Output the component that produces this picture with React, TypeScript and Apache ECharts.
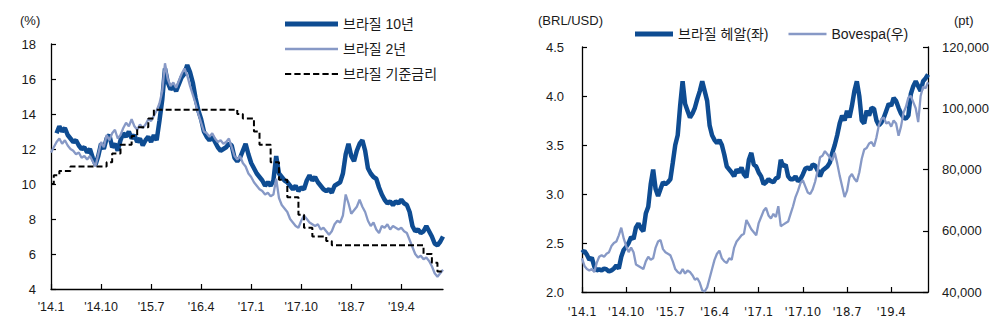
import React, { useEffect, useRef } from "react";
import * as echarts from "echarts";

// semi-monthly categories, Jan 2014 (first half) .. Nov 2019 (second half)
const categories: string[] = [];
for (let y = 2014; y <= 2019; y++) {
  for (let m = 1; m <= 12; m++) {
    if (y === 2019 && m > 11) break;
    const mm = (m < 10 ? "0" : "") + m;
    categories.push(`${y}-${mm}a`);
    categories.push(`${y}-${mm}b`);
  }
}

const leftYTicks = [4, 6, 8, 10, 12, 14, 16, 18];
const brlTicks = [2.0, 2.5, 3.0, 3.5, 4.0, 4.5];
const ptTicks = [40000, 60000, 80000, 100000, 120000];

const tenY = [
  null, null, 12.9, 13.3, 13.0, 13.2, 12.8, 12.6, 12.4, 12.5,
  12.2, 12.0, 12.1, 11.8, 12.0, 11.5, 11.1, 11.6, 12.3, 12.0,
  12.6, 12.8, 12.1, 12.3, 11.9, 12.5, 12.9, 12.7, 13.0, 12.6,
  12.8, 12.4, 12.6, 12.2, 12.5, 12.7, 12.4, 12.8, 12.5, 13.6,
  14.8, 16.6, 15.8, 15.4, 15.6, 15.3, 15.7, 16.1, 16.3, 16.8,
  16.4, 15.8, 14.9, 14.2, 13.7, 13.0, 12.7, 12.5, 12.7, 12.4,
  12.1, 11.9, 12.0, 12.1, 12.3, 12.2, 11.5, 11.3, 11.5, 11.9,
  12.3, 11.7, 11.2, 10.9, 10.6, 10.4, 10.2, 9.9, 10.1, 9.9,
  10.2, 11.6, 10.6, 10.4, 10.2, 10.1, 9.9, 9.7, 9.9, 9.6,
  9.8, 9.7, 10.2, 10.5, 10.2, 10.4, 10.1, 9.9, 9.7, 9.6,
  9.7, 9.5, 9.9, 10.0, 10.1, 10.6, 11.7, 12.3, 11.6, 11.3,
  11.9, 12.3, 12.5, 11.9, 10.9, 10.6, 10.4, 10.3, 9.8, 9.4,
  9.1, 8.9, 9.0, 8.8, 9.0, 8.9, 9.1, 8.9, 8.8, 8.4,
  7.6, 7.3, 7.4, 7.2, 7.3, 7.6, 7.3, 7.0, 6.6, 6.5,
  6.7, 7.0,
];

const twoY = [
  11.8, 12.1, 12.4, 12.6, 12.3, 12.5, 12.2, 12.0, 11.9, 11.7,
  11.8, 11.5, 11.6, 11.4, 11.6, 11.3, 11.0, 11.7, 12.4, 12.1,
  12.8, 12.5, 12.9, 13.1, 12.6, 12.8, 13.2, 13.5, 13.3, 13.7,
  13.3, 13.1, 13.4, 13.2, 13.4, 13.7, 13.6, 13.9, 14.2, 14.6,
  15.3, 16.9, 16.0, 15.6, 15.8, 15.5, 15.9, 16.3, 16.6, 16.2,
  15.6, 15.1, 14.6, 14.0, 13.5, 13.0, 12.9, 12.7, 12.9, 12.6,
  12.4, 12.5, 12.3, 12.4, 12.6, 12.1, 11.6, 11.4, 11.6, 11.2,
  11.0, 10.6, 10.4, 10.1, 9.9, 9.7, 9.6, 9.4, 9.5, 9.3,
  9.4, 10.3, 9.2, 8.8, 8.6, 8.4, 8.0, 7.8, 7.6, 7.5,
  7.9, 8.2, 8.0, 7.8, 7.7, 7.6, 7.7, 7.4, 7.5, 7.3,
  7.1, 7.3, 7.7, 7.9, 7.8, 8.2, 9.4, 8.9, 8.3, 8.5,
  8.7, 9.1, 8.7, 8.4, 7.9, 7.6, 7.8, 7.4, 7.2, 7.6,
  7.5, 7.7, 7.4, 7.6, 7.5, 7.4, 7.5, 7.3, 7.2, 6.8,
  6.4, 6.0, 5.8, 5.9, 5.7, 5.8, 5.6, 5.3, 4.9, 4.7,
  4.9, 5.1,
];

const selic = [
  10.0, 10.5, 10.5, 10.75, 10.75, 10.75, 10.75, 11.0, 11.0, 11.0,
  11.0, 11.0, 11.0, 11.0, 11.0, 11.0, 11.0, 11.0, 11.0, 11.0,
  11.25, 11.25, 11.75, 11.75, 11.75, 12.25, 12.25, 12.25, 12.25, 12.75,
  12.75, 13.25, 13.25, 13.25, 13.25, 13.75, 13.75, 14.25, 14.25, 14.25,
  14.25, 14.25, 14.25, 14.25, 14.25, 14.25, 14.25, 14.25, 14.25, 14.25,
  14.25, 14.25, 14.25, 14.25, 14.25, 14.25, 14.25, 14.25, 14.25, 14.25,
  14.25, 14.25, 14.25, 14.25, 14.25, 14.25, 14.25, 14.0, 14.0, 13.75,
  13.75, 13.75, 13.75, 13.0, 13.0, 12.25, 12.25, 12.25, 12.25, 11.25,
  11.25, 11.25, 10.25, 10.25, 10.25, 9.25, 9.25, 9.25, 9.25, 8.25,
  8.25, 7.5, 7.5, 7.5, 7.0, 7.0, 7.0, 7.0, 7.0, 6.75,
  6.75, 6.5, 6.5, 6.5, 6.5, 6.5, 6.5, 6.5, 6.5, 6.5,
  6.5, 6.5, 6.5, 6.5, 6.5, 6.5, 6.5, 6.5, 6.5, 6.5,
  6.5, 6.5, 6.5, 6.5, 6.5, 6.5, 6.5, 6.5, 6.5, 6.5,
  6.5, 6.5, 6.5, 6.5, 6.0, 6.0, 6.0, 5.5, 5.5, 5.0,
  5.0, 5.0,
];

const brl = [
  2.40, 2.42, 2.38, 2.33, 2.35, 2.26, 2.22, 2.23, 2.22, 2.24,
  2.23, 2.21, 2.22, 2.24, 2.27, 2.24, 2.36, 2.43, 2.46, 2.50,
  2.56, 2.54, 2.66, 2.70, 2.65, 2.62, 2.80, 2.87, 3.10, 3.25,
  3.05, 2.98, 3.05, 3.12, 3.10, 3.12, 3.15, 3.32, 3.50, 3.60,
  3.90, 4.15, 3.92, 3.85, 3.78, 3.82, 3.88, 3.97, 4.05, 4.15,
  4.05, 3.95, 3.70, 3.60, 3.55, 3.52, 3.55, 3.50, 3.40, 3.28,
  3.25, 3.22, 3.18, 3.25, 3.22, 3.27, 3.20, 3.17, 3.35, 3.42,
  3.30, 3.28, 3.22, 3.18, 3.10, 3.12, 3.15, 3.13, 3.12, 3.16,
  3.17, 3.35, 3.28, 3.30, 3.18, 3.15, 3.15, 3.18, 3.13, 3.15,
  3.20, 3.26, 3.27, 3.25, 3.30, 3.29, 3.24, 3.18, 3.24, 3.26,
  3.28, 3.32, 3.42, 3.50, 3.60, 3.72, 3.80, 3.75, 3.85, 3.78,
  3.90, 4.05, 4.15, 4.00, 3.75, 3.72, 3.85, 3.80, 3.88, 3.87,
  3.75, 3.70, 3.73, 3.78, 3.85, 3.92, 3.90, 3.98, 3.95, 3.88,
  3.82, 3.78, 3.77, 3.80, 4.02, 4.10, 4.15, 4.10, 4.05, 4.15,
  4.18, 4.22,
];

const bovespa = [
  51000, 48500, 47500, 47000, 47500, 46500, 49500, 51500, 52000, 51500,
  52500, 53000, 55000, 56000, 56500, 58500, 61000, 57500, 55000, 53000,
  54500, 53000, 49000, 48500, 48000, 47500, 50000, 51500, 50500, 51000,
  54500, 56500, 57000, 54000, 53000, 52500, 52000, 50000, 47500, 46500,
  46000, 47500, 46000, 47000, 46500, 45500, 44000, 44500, 43000, 40500,
  40200, 41500, 44500, 47500, 50500, 52500, 53500, 51000, 50000, 49500,
  51000, 50500, 54500, 56500, 57500, 58500, 59000, 63500, 62000, 60500,
  59500, 58500, 62500, 64500, 66500, 67500, 65000, 64000, 65500, 64500,
  68000, 61500, 62000, 62500, 63000, 65500, 68000, 71000, 73000, 75500,
  76500, 74500, 72500, 72000, 73500, 76000, 79500, 84000, 84500, 86000,
  85000, 84000, 83000, 85500, 82000, 78000, 74500, 71000, 73000, 77500,
  78500, 77000, 76000, 79000, 83500, 86500, 87000, 88500, 89000, 87500,
  90500, 94500, 96500, 97000, 95000, 95500, 94000, 96000, 95000, 91000,
  94000, 98500, 100500, 103500, 104000, 102000, 100000, 95500, 104000, 107000,
  106500, 108500,
];

const DARK = "#0e4c92";
const LIGHT = "#8799c6";
const FONT = "Arial, 'Liberation Sans', 'Noto Sans CJK KR', sans-serif";
const NARROW = "'Liberation Sans Narrow', 'Arial Narrow', 'DejaVu Sans Condensed', Arial, sans-serif";
const TXT = "#1a1a1a";

const ICON_THICK_L = "path://M0,0H53V5H0Z";
const ICON_THIN_L = "path://M0,0H53V2.4H0Z";
const ICON_DASH = "path://M0,0H6V2H0Z M9,0H15V2H9Z M18,0H24V2H18Z M27,0H33V2H27Z M36,0H42V2H36Z M45,0H51V2H45Z";
const ICON_THICK_R = "path://M0,0H38V5H0Z";
const ICON_THIN_R = "path://M0,0H40V2.4H0Z";

function monthLabel(v: string) {
  const y = v.slice(2, 4);
  const m = parseInt(v.slice(5, 7), 10);
  return `'${y}.${m}`;
}

export default function App() {
  const ref = useRef<HTMLDivElement>(null);
  useEffect(() => {
    if (!ref.current) return;
    const chart = echarts.init(ref.current, null, { renderer: "svg" });
    const axisLine = { show: true, lineStyle: { color: "#000", width: 1.3 } };
    const tick = { show: true, inside: true, length: 5, lineStyle: { color: "#000", width: 1.2 } };
    const xCommon = (gridIndex: number, font: string, size: number, margin: number) => ({
      type: "category",
      gridIndex,
      data: categories,
      boundaryGap: false,
      axisLine,
      axisTick: { ...tick, interval: 17 },
      axisLabel: {
        interval: 17,
        formatter: monthLabel,
        fontFamily: font,
        fontSize: size,
        color: TXT,
        margin,
      },
      splitLine: { show: false },
    });
    chart.setOption({
      animation: false,
      backgroundColor: "#fff",
      textStyle: { fontFamily: FONT },
      grid: [
        { left: 51, top: 44, width: 392, height: 245 },
        { left: 582, top: 47, width: 346, height: 245 },
      ],
      legend: [
        {
          orient: "vertical",
          left: 280,
          top: 12,
          itemWidth: 53,
          itemHeight: 14,
          itemGap: 11,
          selectedMode: false,
          data: [
            { name: "브라질 10년", icon: ICON_THICK_L },
            { name: "브라질 2년", icon: ICON_THIN_L },
            { name: "브라질 기준금리", icon: ICON_DASH },
          ],
          textStyle: { fontSize: 14, color: TXT, fontFamily: FONT },
        },
        {
          orient: "horizontal",
          left: 630,
          top: 22,
          itemWidth: 38,
          itemHeight: 14,
          itemGap: 20,
          selectedMode: false,
          data: [
            { name: "브라질 헤알(좌)", icon: ICON_THICK_R },
            { name: "Bovespa(우)", icon: ICON_THIN_R },
          ],
          textStyle: { fontSize: 14, color: TXT, fontFamily: FONT },
        },
      ],
      xAxis: [xCommon(0, FONT, 12.5, 12), xCommon(1, NARROW, 13, 13)],
      yAxis: [
        {
          type: "value",
          gridIndex: 0,
          min: leftYTicks[0],
          max: leftYTicks[leftYTicks.length - 1],
          interval: 2,
          axisLine,
          axisTick: tick,
          axisLabel: { fontSize: 13, color: TXT, margin: 15, fontFamily: FONT },
          splitLine: { show: false },
        },
        {
          type: "value",
          gridIndex: 1,
          min: brlTicks[0],
          max: brlTicks[brlTicks.length - 1],
          interval: 0.5,
          axisLine,
          axisTick: tick,
          axisLabel: {
            fontSize: 13,
            color: TXT,
            margin: 18,
            fontFamily: FONT,
            formatter: (v: number) => v.toFixed(1),
          },
          splitLine: { show: false },
        },
        {
          type: "value",
          gridIndex: 1,
          position: "right",
          min: ptTicks[0],
          max: ptTicks[ptTicks.length - 1],
          interval: 20000,
          axisLine,
          axisTick: tick,
          axisLabel: {
            fontSize: 13,
            color: TXT,
            margin: 14,
            fontFamily: FONT,
            formatter: (v: number) => v.toLocaleString("en-US"),
          },
          splitLine: { show: false },
        },
      ],
      graphic: [
        { type: "text", left: 20, top: 14, style: { text: "(%)", fontSize: 13, fill: TXT, fontFamily: FONT } },
        { type: "text", left: 538, top: 14, style: { text: "(BRL/USD)", fontSize: 13, fill: TXT, fontFamily: FONT } },
        { type: "text", left: 954, top: 14, style: { text: "(pt)", fontSize: 13, fill: TXT, fontFamily: FONT } },
      ],
      series: [
        {
          name: "브라질 10년",
          type: "line",
          xAxisIndex: 0,
          yAxisIndex: 0,
          data: tenY,
          showSymbol: false,
          symbol: "none",
          connectNulls: false,
          lineStyle: { color: DARK, width: 4.5 },
          itemStyle: { color: DARK },
        },
        {
          name: "브라질 2년",
          type: "line",
          xAxisIndex: 0,
          yAxisIndex: 0,
          data: twoY,
          showSymbol: false,
          symbol: "none",
          lineStyle: { color: LIGHT, width: 2.3 },
          itemStyle: { color: LIGHT },
        },
        {
          name: "브라질 기준금리",
          type: "line",
          xAxisIndex: 0,
          yAxisIndex: 0,
          data: selic,
          step: "end",
          showSymbol: false,
          symbol: "none",
          lineStyle: { color: "#000", width: 2, type: [6, 3] },
          itemStyle: { color: "#000" },
        },
        {
          name: "브라질 헤알(좌)",
          type: "line",
          xAxisIndex: 1,
          yAxisIndex: 1,
          data: brl,
          showSymbol: false,
          symbol: "none",
          lineStyle: { color: DARK, width: 4.5 },
          itemStyle: { color: DARK },
        },
        {
          name: "Bovespa(우)",
          type: "line",
          xAxisIndex: 1,
          yAxisIndex: 2,
          data: bovespa,
          showSymbol: false,
          symbol: "none",
          lineStyle: { color: LIGHT, width: 2.3 },
          itemStyle: { color: LIGHT },
        },
      ],
    });
    return () => chart.dispose();
  }, []);
  return (
    <div
      ref={ref}
      style={{ position: "absolute", left: 0, top: 0, width: 1000, height: 332, background: "#fff" }}
    />
  );
}
